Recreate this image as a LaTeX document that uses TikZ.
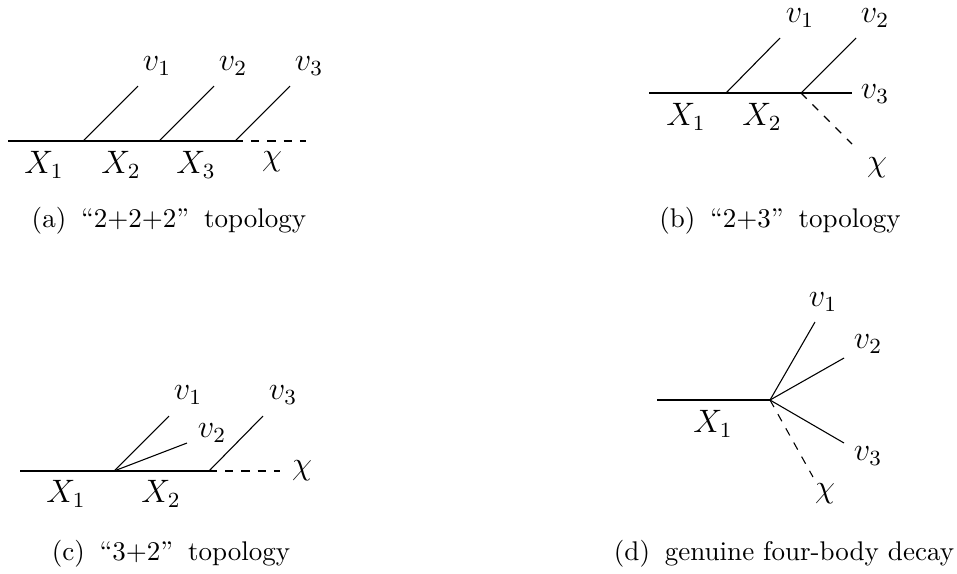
\documentclass[tikz,border=0pt]{standalone}
\tikzset{
  leg/.style={line width=0.4pt},
  dleg/.style={line width=0.4pt, dashed},
  lbl/.style={inner sep=0pt, font=\large},
  captxt/.style={inner sep=0pt, anchor=base, font=\normalsize},
}
\newcommand{\capsp}{\hspace{5.5pt}}
\begin{document}
\begin{tikzpicture}[x=0.37pt,y=-0.37pt]
\useasboundingbox (0,0) rectangle (957,573);
% ---------- (a) ----------
\coordinate (a0) at (8,141);
\coordinate (a1) at (83,141);
\coordinate (a2) at (159,141);
\coordinate (a3) at (235,141);
\coordinate (ae) at (306,141);
\coordinate (at1) at (138,86);
\coordinate (at2) at (214,86);
\coordinate (at3) at (290,86);
\draw[leg] (a0) -- (a3);
\draw[dleg] (a3) -- (ae);
\draw[leg] (a1) -- (at1);
\draw[leg] (a2) -- (at2);
\draw[leg] (a3) -- (at3);
\node[lbl] (av1) at (157,66) {$v_1$};
\node[lbl] (av2) at (233,66) {$v_2$};
\node[lbl] (av3) at (309,66) {$v_3$};
\node[lbl] (aX1) at (44,165) {$X_1$};
\node[lbl] (aX2) at (121,165) {$X_2$};
\node[lbl] (aX3) at (196,165) {$X_3$};
\node[lbl] (achi) at (272,162) {$\chi$};
\node[captxt] (acap) at (169,227) {(a)\capsp``2+2+2''\capsp topology};
% ---------- (b) ----------
\coordinate (b0) at (649,93);
\coordinate (b1) at (726,93);
\coordinate (b2) at (801,93);
\coordinate (be) at (852,93);
\coordinate (bt1) at (780,38);
\coordinate (bt2) at (856,38);
\coordinate (bchiend) at (852,144);
\draw[leg] (b0) -- (be);
\draw[leg] (b1) -- (bt1);
\draw[leg] (b2) -- (bt2);
\draw[dleg] (b2) -- (bchiend);
\node[lbl] (bv1) at (800,18) {$v_1$};
\node[lbl] (bv2) at (875,18) {$v_2$};
\node[lbl] (bv3) at (875,94) {$v_3$};
\node[lbl] (bchi) at (877,168) {$\chi$};
\node[lbl] (bX1) at (686,117) {$X_1$};
\node[lbl] (bX2) at (762,117) {$X_2$};
\node[captxt] (bcap) at (780,227) {(b)\capsp``2+3''\capsp topology};
% ---------- (c) ----------
\coordinate (c0) at (20,471);
\coordinate (c1) at (114,471);
\coordinate (c2) at (209,471);
\coordinate (ce) at (280,471);
\coordinate (ct1) at (169,416);
\coordinate (ct2) at (187,443);
\coordinate (ct3) at (263,416);
\draw[leg] (c0) -- (c2);
\draw[dleg] (c2) -- (ce);
\draw[leg] (c1) -- (ct1);
\draw[leg] (c1) -- (ct2);
\draw[leg] (c2) -- (ct3);
\node[lbl] (cv1) at (188,395) {$v_1$};
\node[lbl] (cv2) at (212,433) {$v_2$};
\node[lbl] (cv3) at (283,395) {$v_3$};
\node[lbl] (cchi) at (302,471) {$\chi$};
\node[lbl] (cX1) at (66,494) {$X_1$};
\node[lbl] (cX2) at (161,494) {$X_2$};
\node[captxt] (ccap) at (171,560) {(c)\capsp``3+2''\capsp topology};
% ---------- (d) ----------
\coordinate (d0) at (657,400);
\coordinate (d1) at (770,400);
\coordinate (dt1) at (815,322);
\coordinate (dt2) at (844,358);
\coordinate (dt3) at (844,443);
\coordinate (dchiend) at (813,477);
\draw[leg] (d0) -- (d1);
\draw[leg] (d1) -- (dt1);
\draw[leg] (d1) -- (dt2);
\draw[leg] (d1) -- (dt3);
\draw[dleg] (d1) -- (dchiend);
\node[lbl] (dv1) at (823,302) {$v_1$};
\node[lbl] (dv2) at (868,344) {$v_2$};
\node[lbl] (dv3) at (868,456) {$v_3$};
\node[lbl] (dchi) at (825,494) {$\chi$};
\node[lbl] (dX1) at (713,424) {$X_1$};
\node[captxt] (dcap) at (784,560) {(d)\capsp genuine four-body decay};
\end{tikzpicture}
\end{document}
